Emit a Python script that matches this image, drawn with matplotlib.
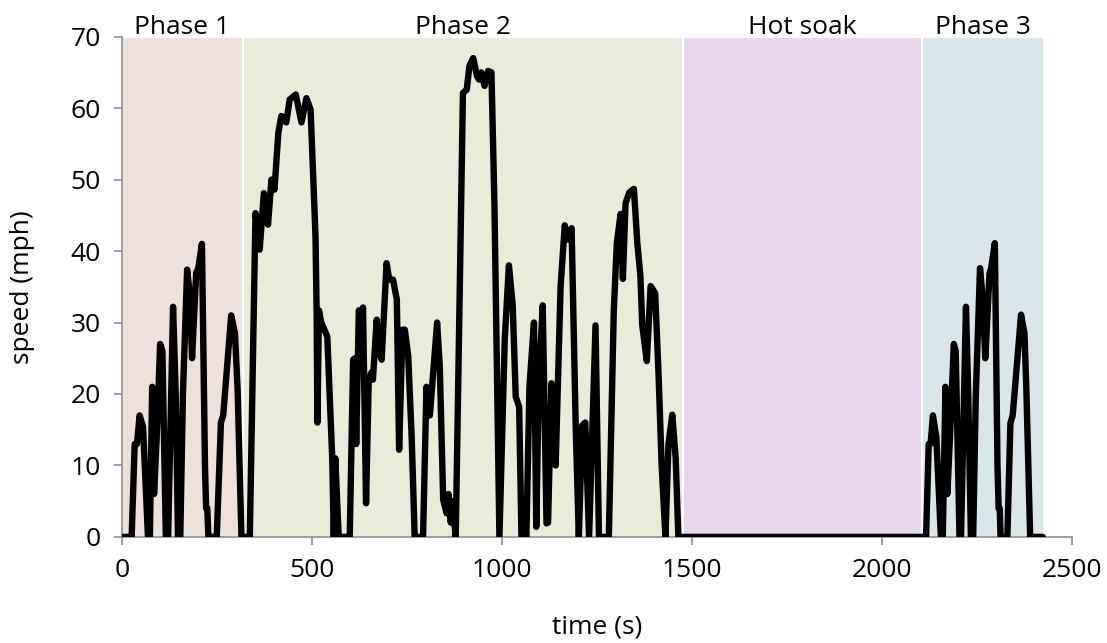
import matplotlib
matplotlib.use("Agg")
import matplotlib.pyplot as plt

# ---- data ---------------------------------------------------------------
# phase shading: (label, start s, end s, colour)
phase_names = ["Phase 1", "Phase 2", "Hot soak", "Phase 3"]
phase_start = [0, 318, 1477, 2106]
phase_end = [318, 1477, 2106, 2427]
phase_colors = ["#eee0da", "#e9ecd9", "#e8d7ec", "#d9e6ea"]

# phase 1
p1_time = [0, 26, 34, 40, 47, 56, 69, 74, 80, 85, 92, 101, 107, 116, 122,
           135, 142, 148, 154, 161, 172, 179, 185, 196, 201, 211, 219, 222,
           225, 228, 250, 261, 267, 288, 298, 305, 315]
p1_speed = [0, 0, 13, 13, 17, 15.4, 0, 0, 21, 6, 14, 27, 26, 0, 0,
            32.2, 20, 0, 0, 20, 37.4, 34, 25, 37, 37.5, 41, 10, 4,
            4, 0, 0, 16, 17, 31, 28.5, 20.5, 0]

# phase 2
p2_time = [337, 352, 363, 374, 385, 394, 402, 412, 420, 433, 442, 458, 473,
           486, 497, 510, 513, 515, 519, 525, 535, 541, 554, 558, 562, 571,
           600, 609, 614, 617, 624, 629, 635, 643, 650, 657, 661, 671, 677,
           684, 697, 704, 714, 724, 730, 739, 745, 754, 763, 771, 793, 802,
           807, 811, 819, 830, 837, 846, 855, 860, 866, 870, 879, 898, 908,
           915, 925, 935, 940, 946, 955, 964, 973, 981, 994, 1008, 1019, 1029,
           1037, 1046, 1052, 1065, 1073, 1085, 1091, 1098, 1108, 1118, 1122,
           1131, 1136, 1142, 1155, 1166, 1173, 1184, 1195, 1203, 1212, 1220,
           1230, 1247, 1256, 1282, 1295, 1303, 1313, 1319, 1326, 1336, 1348,
           1357, 1365, 1370, 1382, 1392, 1404, 1413, 1421, 1431, 1439, 1449,
           1458, 1465]
p2_speed = [0, 45.3, 40.2, 48.1, 43.7, 50, 48.6, 56.5, 58.9, 58, 61.2, 61.9, 58,
            61.4, 59.8, 42, 31, 16, 31.7, 30, 28.8, 28, 11, 0, 11, 0,
            0, 24.8, 25, 13, 31.7, 30, 32.1, 4.7, 22, 23, 22, 30.4, 26,
            24.8, 38.3, 36, 36, 33.2, 12.2, 29, 29, 25.3, 14, 0, 0, 21,
            17, 17, 22.5, 30, 23.9, 5.2, 3.3, 6, 2, 5, 0, 62.1, 62.6,
            65.9, 67, 64.5, 64, 65, 63.1, 65.2, 65, 46.3, 0, 27.6, 38, 32.4,
            19.6, 18.2, 0, 0, 21, 30, 1.4, 22, 32.4, 1.9, 2,
            21.5, 12, 10, 35, 43.6, 41.6, 43.2, 15, 0, 15.6, 16,
            0, 29.6, 0, 0, 31.6, 41.1, 45.2, 36.1, 46.7, 48.2, 48.7,
            41.1, 36.6, 29.6, 24.6, 35.1, 34.1, 22.6, 10, 0, 13, 17.1,
            11, 0]

# phase 3
p3_time = [2117, 2124, 2129, 2135, 2144, 2156, 2161, 2168, 2173, 2180, 2190,
           2195, 2205, 2209, 2222, 2228, 2235, 2241, 2248, 2259, 2265, 2273,
           2284, 2288, 2298, 2305, 2308, 2311, 2313, 2331, 2339, 2345, 2367,
           2376, 2381, 2391, 2424]
p3_speed = [0, 13, 13, 17, 14, 0, 0, 21, 6, 14, 27, 26, 0, 0, 32.2, 20, 0, 0,
            20, 37.6, 34, 25, 36.9, 37.5, 41.1, 10, 4, 4, 0, 0, 15.9, 17, 31.1,
            28.5, 20.6, 0, 0]

time = p1_time + p2_time + p3_time
speed = p1_speed + p2_speed + p3_speed

# ---- plot ---------------------------------------------------------------
plt.rcParams['font.family'] = ['Open Sans', 'DejaVu Sans']
FS = 19

fig = plt.figure(figsize=(11.07, 6.43), dpi=100)
ax = fig.add_axes([0.110, 0.165, 0.858, 0.778])

for name, s, e, c in zip(phase_names, phase_start, phase_end, phase_colors):
    ax.axvspan(s, e, ymin=0, ymax=1, facecolor=c, edgecolor='white', linewidth=1.5, zorder=0)
    ax.text((s + e) / 2, 69.6, name, ha='center', va='bottom', fontsize=FS)

ax.plot(time, speed, color='black', linewidth=4.6, solid_joinstyle='round',
        solid_capstyle='round', zorder=3)

ax.set_xlim(0, 2500)
ax.set_ylim(0, 70)
ax.set_xticks([0, 500, 1000, 1500, 2000, 2500])
ax.set_yticks(range(0, 71, 10))

for side in ['top', 'right']:
    ax.spines[side].set_visible(False)
for side in ['left', 'bottom']:
    ax.spines[side].set_color('#8c8c8c')
    ax.spines[side].set_linewidth(1.2)

ax.tick_params(axis='both', colors='#8c8c8c', labelcolor='black', labelsize=FS,
               length=6, width=1.2)
ax.tick_params(axis='x', pad=9)
ax.tick_params(axis='y', pad=9)

ax.set_xlabel('time (s)', fontsize=FS, labelpad=23)
ax.set_ylabel('speed (mph)', fontsize=FS, labelpad=26)

fig.savefig('out.png', dpi=100)
